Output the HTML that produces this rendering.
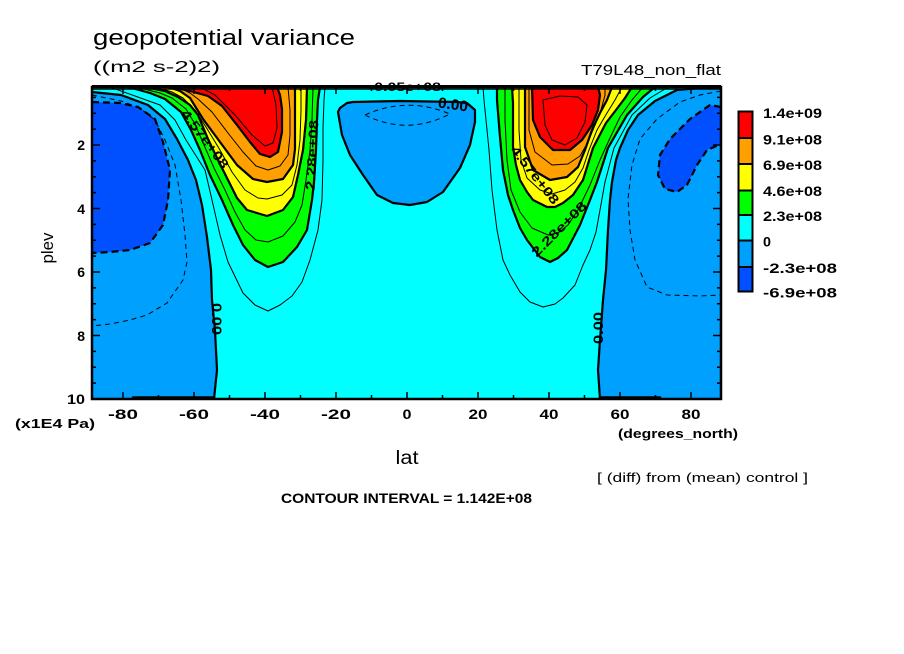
<!DOCTYPE html>
<html><head><meta charset="utf-8"><style>
html,body{margin:0;padding:0;background:#fff;}
svg{display:block;}
text{font-family:"Liberation Sans",sans-serif;fill:#000;}
.b{font-weight:bold;}
</style></head><body>
<svg width="904" height="654" viewBox="0 0 904 654" xmlns="http://www.w3.org/2000/svg">
<defs><clipPath id="pc"><rect x="92" y="87" width="629" height="312"/></clipPath></defs>

<!-- titles -->
<text x="93" y="45" font-size="22" textLength="262" lengthAdjust="spacingAndGlyphs">geopotential variance</text>
<text x="93" y="72" font-size="16" textLength="127" lengthAdjust="spacingAndGlyphs">((m2 s-2)2)</text>
<text x="581" y="75" font-size="15" textLength="140" lengthAdjust="spacingAndGlyphs">T79L48_non_flat</text>

<g clip-path="url(#pc)">
<rect x="92" y="87" width="629" height="312" fill="#00ffff"/>
<!-- light blue regions -->
<path fill="#00a0ff" d="M92,80 L92,92 L121,95 L148,105 L165,119 L177,139 L188,160 L196,180 L202,205 L207,237 L211,270 L212,300 L215,330 L217,370 L214,399 L92,399 Z"/>
<path fill="#00a0ff" d="M600,399 L598,370 L600,340 L603,300 L606,270 L608,230 L610,200 L612,182 L616,160 L620,148 L628,130 L638,115 L655,101 L677,90 L700,88 L721,87 L721,399 Z"/>
<path fill="#00a0ff" d="M340,108 L347,103 L353,102 L400,101 L457,102 L467,103 L475,110 L475,122 L470,145 L460,168 L443,192 L427,202 L410,205 L393,203 L377,195 L363,175 L350,155 L342,135 L338,112 Z"/>
<!-- dark blue -->
<path fill="#0050ff" d="M92,102 L120,103 L138,107 L155,119 L163,142 L170,170 L168,200 L163,225 L150,243 L130,250 L110,252 L92,253 Z"/>
<path fill="#0050ff" d="M721,107 L710,105 L690,119 L670,139 L660,155 L658,175 L665,189 L677,192 L687,185 L697,165 L707,150 L721,144 Z"/>
<!-- south jet -->
<path fill="#00ff00" d="M128,87 L150,93 L165,99 L181,112 L191,130 L200,150 L210,175 L222,200 L233,225 L243,245 L255,260 L268,267 L283,262 L297,247 L307,230 L312,200 L314,182 L316,150 L317,120 L318,100 L320,87 Z"/>
<path fill="#ffff00" d="M145,87 L165,91 L178,97 L190,105 L198,115 L208,139 L218,160 L228,180 L237,198 L247,210 L267,216 L283,210 L293,197 L298,175 L303,150 L306,120 L307,87 Z"/>
<path fill="#ffa000" d="M168,87 L180,91 L190,98 L203,119 L220,142 L237,165 L253,179 L267,182 L283,179 L293,165 L295,149 L295,120 L295,87 Z"/>
<path fill="#ff0000" d="M172,87 L190,91 L208,96 L222,106 L237,125 L250,142 L260,154 L270,157 L278,152 L282,132 L282,109 L280,95 L277,87 Z"/>
<!-- north jet -->
<path fill="#00ff00" d="M497,87 L497,100 L500,137 L503,170 L508,195 L513,210 L520,228 L527,240 L540,257 L550,262 L558,258 L567,250 L580,225 L590,200 L597,182 L608,148 L627,115 L643,97 L655,87 Z"/>
<path fill="#ffff00" d="M512,87 L513,103 L513,147 L516,165 L520,180 L527,192 L533,200 L547,207 L555,207 L563,203 L573,195 L583,180 L593,148 L606,123 L616,110 L625,98 L632,87 Z"/>
<path fill="#ffa000" d="M525,87 L525,147 L533,170 L550,180 L567,177 L578,167 L585,150 L592,130 L600,113 L607,100 L612,87 Z"/>
<path fill="#ff0000" d="M532,87 L533,120 L540,137 L553,150 L570,150 L582,140 L592,125 L598,110 L600,95 L598,87 Z"/>

<!-- thick contour lines -->
<g fill="none" stroke="#000" stroke-width="2.2" stroke-linejoin="round" stroke-linecap="round">
<path d="M92,92 L121,95 L148,105 L165,119 L177,139 L188,160 L196,180 L202,205 L207,237 L211,270 L212,300 L215,330 L217,370 L214,399"/>
<path d="M600,399 L598,370 L600,340 L603,300 L606,270 L608,230 L610,200 L612,182 L616,160 L620,148 L628,130 L638,115 L655,101 L677,90 L700,88 L721,87"/>
<path d="M340,108 L347,103 L353,102 L400,101 L457,102 L467,103 L475,110 L475,122 L470,145 L460,168 L443,192 L427,202 L410,205 L393,203 L377,195 L363,175 L350,155 L342,135 L338,112 Z"/>
<path d="M128,87 L150,93 L165,99 L181,112 L191,130 L200,150 L210,175 L222,200 L233,225 L243,245 L255,260 L268,267 L283,262 L297,247 L307,230 L312,200 L314,182 L316,150 L317,120 L318,100 L320,87"/>
<path d="M145,87 L165,91 L178,97 L190,105 L198,115 L208,139 L218,160 L228,180 L237,198 L247,210 L267,216 L283,210 L293,197 L298,175 L303,150 L306,120 L307,87"/>
<path d="M168,87 L180,91 L190,98 L203,119 L220,142 L237,165 L253,179 L267,182 L283,179 L293,165 L295,149 L295,120 L295,87"/>
<path d="M172,87 L190,91 L208,96 L222,106 L237,125 L250,142 L260,154 L270,157 L278,152 L282,132 L282,109 L280,95 L277,87"/>
<path d="M497,87 L497,100 L500,137 L503,170 L508,195 L513,210 L520,228 L527,240 L540,257 L550,262 L558,258 L567,250 L580,225 L590,200 L597,182 L608,148 L627,115 L643,97 L655,87"/>
<path d="M512,87 L513,103 L513,147 L516,165 L520,180 L527,192 L533,200 L547,207 L555,207 L563,203 L573,195 L583,180 L593,148 L606,123 L616,110 L625,98 L632,87"/>
<path d="M525,87 L525,147 L533,170 L550,180 L567,177 L578,167 L585,150 L592,130 L600,113 L607,100 L612,87"/>
<path d="M532,87 L533,120 L540,137 L553,150 L570,150 L582,140 L592,125 L598,110 L600,95 L598,87"/>
<path d="M133,397.5 L214,397.5 M600,397.5 L660,397.5" stroke-width="2.6"/>
<path d="M92,89 L721,89" stroke-width="1.5"/>
</g>
<!-- thick dashed -->
<g fill="none" stroke="#000" stroke-width="2.2" stroke-dasharray="7,4" stroke-linejoin="round">
<path d="M92,102 L120,103 L138,107 L155,119 L163,142 L170,170 L168,200 L163,225 L150,243 L130,250 L110,252 L92,253"/>
<path d="M721,107 L710,105 L690,119 L670,139 L660,155 L658,175 L665,189 L677,192 L687,185 L697,165 L707,150 L721,144"/>
</g>
<!-- thin lines -->
<g fill="none" stroke="#000" stroke-width="1" stroke-linejoin="round">
<path d="M110,87 L135,96 L160,105 L175,120 L186,140 L205,170 L212,200 L220,235 L228,262 L243,293 L255,305 L268,311 L280,305 L292,296 L302,282 L310,260 L318,230 L322,200 L323,160 L323,128 L324,100 L325,87"/>
<path d="M136,87 L160,93 L172,98 L186,109 L195,124 L204,145 L214,168 L225,190 L235,212 L245,230 L256,240 L268,242 L283,236 L295,222 L302,205 L306,180 L310,150 L312,120 L313,87"/>
<path d="M156,87 L172,92 L183,98 L195,110 L206,127 L220,150 L232,172 L245,190 L258,198 L267,199 L282,195 L292,185 L297,165 L300,140 L301,110 L301,87"/>
<path d="M178,87 L190,93 L198,99 L212,112 L228,133 L243,152 L256,166 L268,170 L280,166 L288,155 L290,135 L290,110 L288,87"/>
<path d="M200,87 L215,95 L235,115 L252,135 L265,146 L273,143 L277,128 L276,105 L272,87"/>
<path d="M483,87 L484,100 L486,120 L489,150 L492,190 L497,230 L503,260 L510,275 L520,292 L530,302 L543,307 L555,304 L563,298 L575,285 L583,265 L590,250 L596,232 L600,210 L605,182 L614,148 L632,115 L650,98 L665,89 L670,87"/>
<path d="M505,87 L505,120 L507,160 L511,190 L520,212 L532,228 L548,235 L558,233 L568,225 L578,210 L590,185 L600,160 L610,138 L620,117 L632,100 L643,87"/>
<path d="M519,87 L519,130 L521,160 L527,178 L540,190 L552,194 L565,190 L575,182 L583,168 L589,150 L597,130 L607,113 L615,100 L622,87"/>
<path d="M529,87 L529,130 L535,152 L552,165 L568,164 L580,156 L588,142 L595,125 L601,110 L605,95 L605,87"/>
<path d="M543,100 L545,125 L552,140 L565,145 L577,138 L585,122 L587,105 L578,97 L560,96 Z"/>
</g>
<g fill="none" stroke="#000" stroke-width="1" stroke-dasharray="5,4">
<path d="M92,95 L121,101 L140,108 L155,120 L165,140 L175,165 L181,200 L185,235 L187,262 L183,280 L167,303 L147,315 L130,320 L110,324 L92,326"/>
<path d="M721,91 L700,95 L680,102 L657,119 L640,139 L632,165 L628,199 L630,230 L635,260 L647,287 L667,295 L700,296 L721,295"/>
<path d="M365,115 Q407,96 450,114 Q407,136 365,115 Z"/>
</g>
</g>

<!-- contour labels -->
<g class="b" font-size="13">
<text transform="translate(205,139) rotate(53)" text-anchor="middle" dominant-baseline="central" textLength="70" lengthAdjust="spacingAndGlyphs">4.57e+08</text>
<text transform="translate(312,155) rotate(-87)" text-anchor="middle" dominant-baseline="central" textLength="70" lengthAdjust="spacingAndGlyphs">2.28e+08</text>
<text transform="translate(535,175) rotate(52)" text-anchor="middle" dominant-baseline="central" textLength="70" lengthAdjust="spacingAndGlyphs">4.57e+08</text>
<text transform="translate(559,229) rotate(-45)" text-anchor="middle" dominant-baseline="central" textLength="72" lengthAdjust="spacingAndGlyphs">2.28e+08</text>
<text transform="translate(453,105) rotate(8)" text-anchor="middle" dominant-baseline="central" font-size="15" textLength="30" lengthAdjust="spacingAndGlyphs">0.00</text>
<text transform="translate(217,319) rotate(90)" text-anchor="middle" dominant-baseline="central" font-size="14" textLength="32" lengthAdjust="spacingAndGlyphs">0.00</text>
<text transform="translate(598,328) rotate(-90)" text-anchor="middle" dominant-baseline="central" font-size="14" textLength="32" lengthAdjust="spacingAndGlyphs">0.00</text>
</g>

<!-- frame -->
<rect x="92" y="87" width="629" height="312" fill="none" stroke="#000" stroke-width="2.5"/>
<path d="M92,86.5 L721,86.5" stroke="#000" stroke-width="3"/>
<text x="405" y="91" class="b" font-size="12" text-anchor="middle" textLength="72" lengthAdjust="spacingAndGlyphs">-0.05e+08</text>
<!-- ticks -->
<path fill="none" stroke="#000" stroke-width="1.5" d="
M123,399 v-7 M158.5,399 v-4 M194,399 v-7 M229.5,399 v-4 M265,399 v-7 M300.5,399 v-4 M336,399 v-7 M371.5,399 v-4 M407,399 v-7 M442.5,399 v-4 M478,399 v-7 M513.5,399 v-4 M549,399 v-7 M584.5,399 v-4 M620,399 v-7 M655.5,399 v-4 M691,399 v-7
M123,87 v7 M158.5,87 v4 M194,87 v7 M229.5,87 v4 M265,87 v7 M300.5,87 v4 M336,87 v7 M371.5,87 v4 M407,87 v7 M442.5,87 v4 M478,87 v7 M513.5,87 v4 M549,87 v7 M584.5,87 v4 M620,87 v7 M655.5,87 v4 M691,87 v7
M92,97.4 h4 M92,113.25 h4 M92,129.1 h4 M92,145 h8 M92,160.9 h4 M92,176.75 h4 M92,192.6 h4 M92,208.5 h8 M92,224.4 h4 M92,240.25 h4 M92,256.1 h4 M92,272 h8 M92,287.9 h4 M92,303.75 h4 M92,319.6 h4 M92,335.5 h8 M92,351.4 h4 M92,367.25 h4 M92,383.1 h4
M721,97.4 h-4 M721,113.25 h-4 M721,129.1 h-4 M721,145 h-8 M721,160.9 h-4 M721,176.75 h-4 M721,192.6 h-4 M721,208.5 h-8 M721,224.4 h-4 M721,240.25 h-4 M721,256.1 h-4 M721,272 h-8 M721,287.9 h-4 M721,303.75 h-4 M721,319.6 h-4 M721,335.5 h-8 M721,351.4 h-4 M721,367.25 h-4 M721,383.1 h-4"/>

<!-- axis labels -->
<g class="b" font-size="14" text-anchor="middle">
<text x="123" y="419" textLength="30" lengthAdjust="spacingAndGlyphs">-80</text>
<text x="194" y="419" textLength="30" lengthAdjust="spacingAndGlyphs">-60</text>
<text x="265" y="419" textLength="30" lengthAdjust="spacingAndGlyphs">-40</text>
<text x="336" y="419" textLength="30" lengthAdjust="spacingAndGlyphs">-20</text>
<text x="407" y="419" textLength="9" lengthAdjust="spacingAndGlyphs">0</text>
<text x="478" y="419" textLength="19" lengthAdjust="spacingAndGlyphs">20</text>
<text x="549" y="419" textLength="19" lengthAdjust="spacingAndGlyphs">40</text>
<text x="620" y="419" textLength="19" lengthAdjust="spacingAndGlyphs">60</text>
<text x="691" y="419" textLength="19" lengthAdjust="spacingAndGlyphs">80</text>
</g>
<g class="b" font-size="14" text-anchor="end">
<text x="85" y="150">2</text>
<text x="85" y="214">4</text>
<text x="85" y="277">6</text>
<text x="85" y="341">8</text>
<text x="85" y="404" textLength="18" lengthAdjust="spacingAndGlyphs">10</text>
</g>
<text transform="translate(53,248) rotate(-90)" text-anchor="middle" font-size="17" textLength="31" lengthAdjust="spacingAndGlyphs">plev</text>
<text x="407" y="464" text-anchor="middle" font-size="19" textLength="23" lengthAdjust="spacingAndGlyphs">lat</text>
<text x="15" y="428" class="b" font-size="13" textLength="80" lengthAdjust="spacingAndGlyphs">(x1E4 Pa)</text>
<text x="618" y="438" class="b" font-size="13" textLength="120" lengthAdjust="spacingAndGlyphs">(degrees_north)</text>
<text x="597" y="482" font-size="13" textLength="211" lengthAdjust="spacingAndGlyphs">[ (diff) from (mean) control ]</text>
<text x="281" y="503" class="b" font-size="14" textLength="251" lengthAdjust="spacingAndGlyphs">CONTOUR INTERVAL = 1.142E+08</text>

<!-- legend -->
<g stroke="#000" stroke-width="2">
<rect x="738.5" y="111.5" width="14" height="26.5" fill="#ff0000"/>
<rect x="738.5" y="138" width="14" height="26" fill="#ffa000"/>
<rect x="738.5" y="164" width="14" height="26.5" fill="#ffff00"/>
<rect x="738.5" y="190.5" width="14" height="24.5" fill="#00ff00"/>
<rect x="738.5" y="215" width="14" height="25.5" fill="#00ffff"/>
<rect x="738.5" y="240.5" width="14" height="26.5" fill="#00a0ff"/>
<rect x="738.5" y="267" width="14" height="24.5" fill="#0050ff"/>
</g>
<g class="b" font-size="14" dominant-baseline="central">
<text x="763" y="113" textLength="59" lengthAdjust="spacingAndGlyphs">1.4e+09</text>
<text x="763" y="139.5" textLength="59" lengthAdjust="spacingAndGlyphs">9.1e+08</text>
<text x="763" y="165" textLength="59" lengthAdjust="spacingAndGlyphs">6.9e+08</text>
<text x="763" y="191" textLength="59" lengthAdjust="spacingAndGlyphs">4.6e+08</text>
<text x="763" y="216" textLength="59" lengthAdjust="spacingAndGlyphs">2.3e+08</text>
<text x="763" y="241.5" textLength="8" lengthAdjust="spacingAndGlyphs">0</text>
<text x="763" y="268" textLength="74" lengthAdjust="spacingAndGlyphs">-2.3e+08</text>
<text x="763" y="292.5" textLength="74" lengthAdjust="spacingAndGlyphs">-6.9e+08</text>
</g>
</svg>
</body></html>
